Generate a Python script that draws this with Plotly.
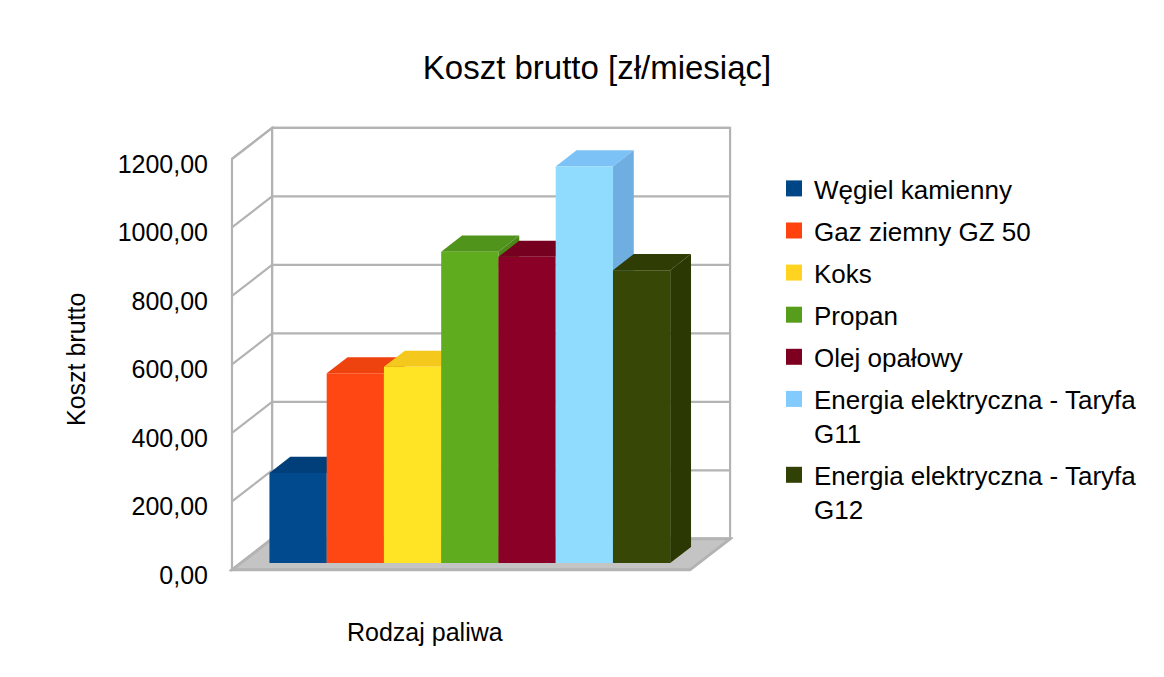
import plotly.graph_objects as go

# ---------------- data ----------------
categories = [
    "Węgiel kamienny",
    "Gaz ziemny GZ 50",
    "Koks",
    "Propan",
    "Olej opałowy",
    "Energia elektryczna - Taryfa G11",
    "Energia elektryczna - Taryfa G12",
]
legend_labels = [
    "Węgiel kamienny",
    "Gaz ziemny GZ 50",
    "Koks",
    "Propan",
    "Olej opałowy",
    "Energia elektryczna - Taryfa<br>G11",
    "Energia elektryczna - Taryfa<br>G12",
]
values = [263, 554, 573, 909, 894, 1158, 855]
y_ticks = [0, 200, 400, 600, 800, 1000, 1200]
title_text = "Koszt brutto [zł/miesiąc]"
y_title = "Koszt brutto"
x_title = "Rodzaj paliwa"

# ---------------- styles ----------------
legend_colors = ["#004586", "#ff420e", "#ffd320", "#579d1c", "#7e0021", "#83caff", "#314004"]
front_colors = ["#004a8d", "#ff4713", "#ffe325", "#5fac1f", "#8b0027", "#8fdcff", "#374705"]
top_colors = ["#003f7a", "#ee420f", "#f5c81e", "#50941b", "#760020", "#7dc2f6", "#2f3c03"]
side_colors = ["#003a70", "#dc3c0c", "#e8bc1a", "#4a8818", "#6c001c", "#6eaee0", "#2c3803"]
GRID = "#b3b3b3"
FLOOR = "#c4c4c4"
FONT = "Liberation Sans, Arial, sans-serif"

# page body has an 8px margin: size the figure so it fills the window exactly
OFF = 8
W, H = 1164 - 2 * OFF, 677 - 2 * OFF

# pseudo-3D projection (in axis units)
DX, DY, Y0 = 0.7, 90.5, 15.0
D_FRONT, D_BACK = 0.22, 0.74
X_LEFT, X_RIGHT = -1.0, 7.0
S_X, S_Y = 57.25, 0.3425            # px per unit
PX_X0, PX_Y0 = 232 - OFF, 575 - OFF  # px of x=-1 and v=0 on the axis
PLOT_L, PLOT_R, PLOT_T, PLOT_B = 229 - OFF, 733 - OFF, 124 - OFF, 579 - OFF
ML, MR, MT, MB = PLOT_L, W - PLOT_R, PLOT_T, H - PLOT_B
PW, PH = PLOT_R - PLOT_L, PLOT_B - PLOT_T


def paper_x(px_ref):
    return (px_ref - OFF - PLOT_L) / PW


def paper_y(py_ref):
    return (PLOT_B - (py_ref - OFF)) / PH


x_range = [X_LEFT - (PX_X0 - PLOT_L) / S_X, X_LEFT + (PLOT_R - PX_X0) / S_X]
y_range = [-(PLOT_B - PX_Y0) / S_Y, (PX_Y0 - PLOT_T) / S_Y]
x2_range = [r - D_FRONT * DX for r in x_range]
y2_range = [r - (Y0 + D_FRONT * DY) for r in y_range]

YTOP = y_ticks[-1]


def proj(x, v, d):
    return x + d * DX, v + Y0 + d * DY


def path(points):
    pts = [proj(*p) for p in points]
    return "M " + " L ".join(f"{x:.4f},{y:.4f}" for x, y in pts) + " Z"


shapes = []
# back wall
shapes.append(dict(type="path", xref="x", yref="y", layer="below",
                   path=path([(X_LEFT, 0, 1), (X_RIGHT, 0, 1), (X_RIGHT, YTOP, 1), (X_LEFT, YTOP, 1)]),
                   fillcolor="white", line=dict(color=GRID, width=2.2)))
# left wall
shapes.append(dict(type="path", xref="x", yref="y", layer="below",
                   path=path([(X_LEFT, 0, 0), (X_LEFT, 0, 1), (X_LEFT, YTOP, 1), (X_LEFT, YTOP, 0)]),
                   fillcolor="white", line=dict(color=GRID, width=2.2)))
# grid lines
for v in y_ticks:
    x0, y0 = proj(X_LEFT, v, 0)
    x1, y1 = proj(X_LEFT, v, 1)
    x2, y2 = proj(X_RIGHT, v, 1)
    shapes.append(dict(type="line", xref="x", yref="y", layer="below",
                       x0=x0, y0=y0, x1=x1, y1=y1, line=dict(color=GRID, width=2.2)))
    shapes.append(dict(type="line", xref="x", yref="y", layer="below",
                       x0=x1, y0=y1, x1=x2, y1=y2, line=dict(color=GRID, width=2.2)))
# floor
shapes.append(dict(type="path", xref="x", yref="y", layer="below",
                   path=path([(X_LEFT, 0, 0), (X_RIGHT, 0, 0), (X_RIGHT, 0, 1), (X_LEFT, 0, 1)]),
                   fillcolor=FLOOR, line=dict(color=GRID, width=3)))
# bar top and side faces (front faces are the bar trace)
for i, h in enumerate(values):
    xl, xr = i - 0.5, i + 0.5
    shapes.append(dict(type="path", xref="x", yref="y", layer="below",
                       path=path([(xl, h, D_FRONT), (xr, h, D_FRONT), (xr, h, D_BACK), (xl, h, D_BACK)]),
                       fillcolor=top_colors[i], line=dict(width=0)))
    shapes.append(dict(type="path", xref="x", yref="y", layer="below",
                       path=path([(xr, 0, D_FRONT), (xr, h, D_FRONT), (xr, h, D_BACK), (xr, 0, D_BACK)]),
                       fillcolor=side_colors[i], line=dict(width=0)))

fig = go.Figure()
fig.add_trace(go.Bar(
    x=list(range(len(values))), y=values, width=1,
    marker=dict(color=front_colors, line=dict(width=0)),
    customdata=categories, hovertemplate="%{customdata}: %{y:.2f}<extra></extra>",
    xaxis="x2", yaxis="y2", showlegend=False,
))
for k, (lab, col) in enumerate(zip(legend_labels, legend_colors)):
    fig.add_trace(go.Scatter(
        x=[None], y=[None], mode="markers", name=lab, legendgroup=f"g{k}",
        marker=dict(symbol="square", size=16, color=col),
    ))

fig.update_layout(
    width=W, height=H,
    margin=dict(l=ML, r=MR, t=MT, b=MB, autoexpand=False),
    paper_bgcolor="white", plot_bgcolor="rgba(0,0,0,0)",
    font=dict(family=FONT, color="black"),
    separators=",.",
    barmode="overlay",
    shapes=shapes,
    title=dict(text=title_text, font=dict(size=33, color="black"),
               x=paper_x(597), xanchor="center", xref="paper",
               y=1 - (67 - OFF) / H, yanchor="middle", yref="container"),
    xaxis=dict(range=x_range, visible=False, fixedrange=True),
    yaxis=dict(range=y_range, tickvals=y_ticks, tickformat=".2f", showgrid=False,
               zeroline=False, showline=False, ticks="", ticklabelstandoff=20,
               tickfont=dict(size=25, color="black"), fixedrange=True),
    xaxis2=dict(range=x2_range, overlaying="x", anchor="y2", visible=False, fixedrange=True),
    yaxis2=dict(range=y2_range, overlaying="y", anchor="x2", visible=False, fixedrange=True),
    legend=dict(x=paper_x(774), y=paper_y(165),
                xanchor="left", yanchor="top", valign="top",
                font=dict(size=26, color="black"), bgcolor="rgba(0,0,0,0)",
                itemsizing="trace", tracegroupgap=5.3, traceorder="grouped"),
    annotations=[
        dict(text=y_title, textangle=-90, showarrow=False, xref="paper", yref="paper",
             x=paper_x(76), y=paper_y(360),
             xanchor="center", yanchor="middle", font=dict(size=25, color="black")),
        dict(text=x_title, showarrow=False, xref="paper", yref="paper",
             x=paper_x(425), y=paper_y(632),
             xanchor="center", yanchor="middle", font=dict(size=25, color="black")),
    ],
)

fig.write_html("out.html")
